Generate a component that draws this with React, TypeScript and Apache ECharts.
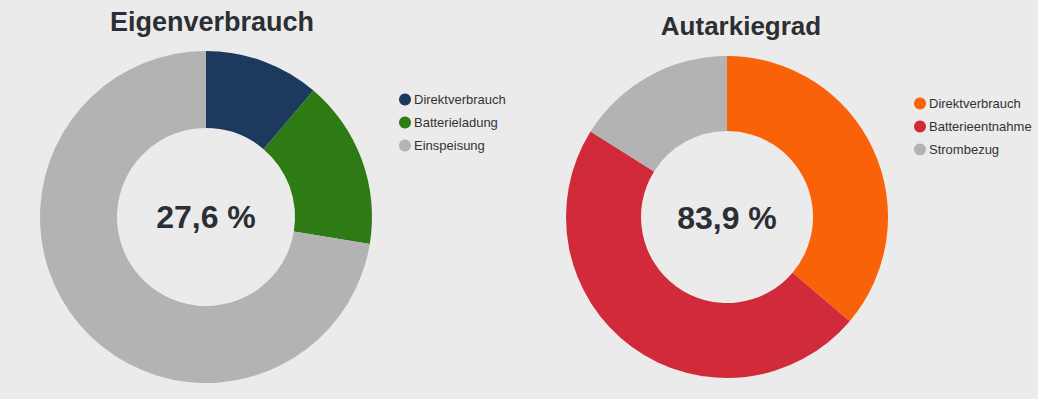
import React, { useEffect, useRef } from "react";
import * as echarts from "echarts";

const leftTitle = "Eigenverbrauch";
const rightTitle = "Autarkiegrad";
const leftNames = ["Direktverbrauch", "Batterieladung", "Einspeisung"];
const leftValues = [11.2, 16.4, 72.4];
const leftColors = ["#1b3a5e", "#2e7a14", "#b3b3b3"];
const rightNames = ["Direktverbrauch", "Batterieentnahme", "Strombezug"];
const rightValues = [36.2, 47.7, 16.1];
const rightColors = ["#f96209", "#d12a3a", "#b3b3b3"];

const FONT = "'Liberation Sans', Arial, Helvetica, sans-serif";
const fmt = (v: number) => v.toFixed(1).replace(".", ",") + " %";

export default function App() {
  const ref = useRef<HTMLDivElement>(null);
  useEffect(() => {
    document.body.style.margin = "0";
    const chart = echarts.init(ref.current!, null, { renderer: "svg" });
    const leftPct = leftValues[0] + leftValues[1];
    const rightPct = rightValues[0] + rightValues[1];
    const legendCommon = {
      orient: "vertical" as const,
      icon: "circle",
      itemWidth: 12,
      itemHeight: 12,
      itemGap: 10,
      textStyle: { fontSize: 13, color: "#333", fontFamily: FONT, padding: [0, 0, 0, -2] },
      padding: 0,
    };
    chart.setOption({
      animation: false,
      backgroundColor: "#ebebeb",
      title: [
        {
          text: leftTitle,
          left: 212,
          top: 8,
          textAlign: "center",
          textStyle: { fontSize: 27, fontWeight: "bold", color: "#2b2f33", fontFamily: FONT },
          padding: 0,
        },
        {
          text: rightTitle,
          left: 741,
          top: 13,
          textAlign: "center",
          textStyle: { fontSize: 26, fontWeight: "bold", color: "#2b2f33", fontFamily: FONT },
          padding: 0,
        },
      ],
      legend: [
        {
          ...legendCommon,
          left: 399,
          top: 93,
          data: leftNames.map((n, i) => ({ name: n, itemStyle: { color: leftColors[i] } })),
        },
        {
          ...legendCommon,
          left: 914,
          top: 97,
          data: rightNames.map((n, i) => ({ name: n, itemStyle: { color: rightColors[i] } })),
        },
      ],
      graphic: [
        {
          type: "text",
          x: 206,
          y: 217,
          style: {
            text: fmt(leftPct),
            fontSize: 32,
            fontWeight: "bold",
            fill: "#2b2f33",
            fontFamily: FONT,
            align: "center",
            verticalAlign: "middle",
          },
        },
        {
          type: "text",
          x: 727,
          y: 218,
          style: {
            text: fmt(rightPct),
            fontSize: 32,
            fontWeight: "bold",
            fill: "#2b2f33",
            fontFamily: FONT,
            align: "center",
            verticalAlign: "middle",
          },
        },
      ],
      series: [
        {
          type: "pie",
          center: [206, 217],
          radius: [89, 166],
          startAngle: 90,
          label: { show: false },
          labelLine: { show: false },
          emphasis: { disabled: true },
          data: leftNames.map((n, i) => ({ name: n, value: leftValues[i], itemStyle: { color: leftColors[i] } })),
        },
        {
          type: "pie",
          center: [727, 217],
          radius: [86, 161],
          startAngle: 90,
          label: { show: false },
          labelLine: { show: false },
          emphasis: { disabled: true },
          data: rightNames.map((n, i) => ({ name: n, value: rightValues[i], itemStyle: { color: rightColors[i] } })),
        },
      ],
    });
    return () => chart.dispose();
  }, []);
  return <div ref={ref} style={{ width: 1038, height: 399 }} />;
}
